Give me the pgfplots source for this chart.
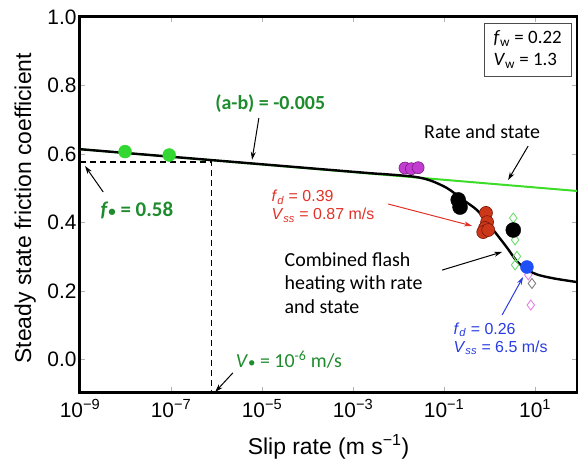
\documentclass[border=0pt]{standalone}
\usepackage{fontspec}
\setmainfont{Liberation Sans}
\newfontfamily\cali{Carlito}
\usepackage{pgfplots}
\pgfplotsset{compat=1.18}
\usetikzlibrary{arrows.meta}
\definecolor{dgreen}{RGB}{30,140,45}
\definecolor{lgreen}{RGB}{60,220,40}
\definecolor{dotgreen}{RGB}{50,215,50}
\definecolor{redtxt}{RGB}{225,50,40}
\definecolor{redfill}{RGB}{205,55,25}
\definecolor{rededge}{RGB}{120,25,10}
\definecolor{bluetxt}{RGB}{40,60,225}
\definecolor{bluedot}{RGB}{30,80,245}
\definecolor{purp}{RGB}{195,60,210}
\definecolor{purpedge}{RGB}{120,30,130}
\definecolor{diagreen}{RGB}{110,220,110}
\definecolor{pinkd}{RGB}{230,130,230}
\begin{document}
\begin{tikzpicture}
\useasboundingbox (0,0) rectangle (578bp,459bp);
\begin{axis}[
  at={(80bp,67bp)}, anchor=south west,
  scale only axis, width=497bp, height=375bp,
  xmode=log, xmin=1e-9, xmax=83.18, ymin=-0.095, ymax=1.0,
  xtick={1e-9,1e-7,1e-5,1e-3,1e-1,10},
  xticklabels={10\textsuperscript{\textminus 9},10\textsuperscript{\textminus 7},10\textsuperscript{\textminus 5},10\textsuperscript{\textminus 3},10\textsuperscript{\textminus 1},10\textsuperscript{1}},
  xminorticks=false,
  ytick={0,0.2,0.4,0.6,0.8,1.0},
  yticklabel style={/pgf/number format/fixed,/pgf/number format/precision=1,/pgf/number format/fixed zerofill},
  xticklabel style={yshift=-4bp},
  /pgf/number format/assume math mode=true,
  tick label style={font=\fontsize{21}{21}\selectfont},
  label style={font=\fontsize{23}{23}\selectfont},
  xlabel={Slip rate (m s\textsuperscript{\textminus 1})},
  ylabel={Steady state friction coefficient},
  xlabel style={at={(axis description cs:0.5,-0.146)},anchor=center},
  ylabel style={at={(axis description cs:-0.11,0.49)},anchor=center},
  axis line style={line width=3bp},
  tick align=inside, major tick length=5bp,
  tick style={gray!60,line width=0.6bp},
  clip=false,
]
% rate and state line
\addplot[lgreen, line width=2bp] coordinates {(1e-9,0.614) (83.18,0.492)};
% combined flash heating curve
\addplot[black, line width=2.4bp, smooth, tension=0.5] coordinates {
(1e-9,0.614) (1e-3,0.548) (3.98e-3,0.542) (0.0209,0.534) (0.049,0.523)
(0.1175,0.500) (0.263,0.466) (0.531,0.436) (0.881,0.401) (1.462,0.364)
(2.427,0.326) (4.018,0.286) (6.668,0.262) (11.07,0.248) (24.89,0.237) (83.18,0.226)};
% dashed reference lines
\addplot[black, line width=1.3bp, dash pattern=on 6bp off 4bp] coordinates {(1e-9,0.577) (7.76e-7,0.577) (7.76e-7,-0.095)};
% diamonds
\addplot[only marks, mark=diamond, mark size=5bp, diagreen, mark options={line width=0.9bp}] coordinates {(3.31,0.413) (3.63,0.349) (3.98,0.301) (3.63,0.276)};
\addplot[only marks, mark=diamond, mark size=5bp, gray, mark options={line width=0.9bp}] coordinates {(8.51,0.222)};
\addplot[only marks, mark=diamond, mark size=5bp, pinkd, mark options={line width=0.9bp}] coordinates {(7.08,0.247) (8.04,0.159)};
% circles
\addplot[only marks, mark=*, mark size=6.5bp, mark options={fill=dotgreen, draw=dotgreen}] coordinates {(9.77e-9,0.607) (9.12e-8,0.597)};
\addplot[only marks, mark=*, mark size=6bp, mark options={fill=purp, draw=purpedge, line width=0.6bp}] coordinates {(0.0138,0.559) (0.0191,0.557) (0.0269,0.560)};
\addplot[only marks, mark=*, mark size=7.5bp, mark options={fill=black, draw=black}] coordinates {(0.204,0.466) (0.224,0.445) (3.31,0.378)};
\addplot[only marks, mark=*, mark size=6.5bp, mark options={fill=redfill, draw=rededge, line width=0.6bp}] coordinates {(0.832,0.428) (0.881,0.401) (0.794,0.384) (0.724,0.372) (0.933,0.378)};
\addplot[only marks, mark=*, mark size=6.5bp, mark options={fill=bluedot, draw=bluedot}] coordinates {(6.61,0.270)};
% annotations
\node[font=\cali\bfseries\fontsize{20}{20}\selectfont, text=dgreen] at (axis cs:1.514e-5,0.746) {(a-b) = -0.005};
\draw[-{Stealth[length=8bp,width=5bp]}, line width=1bp] (axis cs:8.51e-6,0.705) -- (axis cs:6.03e-6,0.583);
\node[font=\cali\fontsize{20}{20}\selectfont] at (axis cs:0.684,0.664) {Rate and state};
\draw[-{Stealth[length=8bp,width=5bp]}, line width=1bp] (axis cs:7.01,0.623) -- (axis cs:2.55,0.524);
\node[font=\cali\bfseries\fontsize{21}{21}\selectfont, text=dgreen] at (axis cs:1.778e-8,0.434) {\textit{f}{\fontsize{15}{15}\selectfont•} = 0.58};
\draw[-{Stealth[length=8bp,width=5bp]}, line width=1bp] (axis cs:3.24e-9,0.489) -- (axis cs:1.29e-9,0.565);
\node[font=\fontsize{16}{18}\selectfont, text=redtxt, anchor=west, align=left] at (axis cs:1.35e-5,0.448) {\textit{f}\textsubscript{\textit{d}} = 0.39\\\textit{V}\textsubscript{\textit{ss}} = 0.87 m/s};
\draw[-{Stealth[length=8bp,width=5bp]}, line width=1bp, redtxt] (axis cs:5.89e-3,0.454) -- (axis cs:0.412,0.390);
\node[font=\cali\fontsize{20}{24}\selectfont, anchor=west, align=left] at (axis cs:2.63e-5,0.223) {Combined flash\\heating with rate\\and state};
\draw[-{Stealth[length=8bp,width=5bp]}, line width=1bp] (axis cs:0.0904,0.261) -- (axis cs:1.884,0.314);
\node[font=\fontsize{16}{18}\selectfont, text=bluetxt, anchor=west, align=left] at (axis cs:0.135,0.060) {\textit{f}\textsubscript{\textit{d}} = 0.26\\\textit{V}\textsubscript{\textit{ss}} = 6.5 m/s};
\draw[-{Stealth[length=8bp,width=5bp]}, line width=1bp, bluetxt] (axis cs:1.884,0.130) -- (axis cs:5.445,0.241);
\node[font=\cali\fontsize{20}{20}\selectfont, text=dgreen] at (axis cs:3.89e-5,-0.001) {\textit{V}{\fontsize{15}{15}\selectfont•} = 10\textsuperscript{-6} m/s};
\draw[-{Stealth[length=8bp,width=5bp]}, line width=1bp] (axis cs:2.29e-6,-0.039) -- (axis cs:9.33e-7,-0.095);
\node[draw=black!70, line width=1bp, fill=white, align=left, minimum width=87bp, minimum height=53bp, font=\cali\fontsize{19}{22}\selectfont] at (axis cs:6.84,0.905) {\textit{f}\textsubscript{w} = 0.22\\\textit{V}\textsubscript{w} = 1.3};
\end{axis}
\end{tikzpicture}
\end{document}
